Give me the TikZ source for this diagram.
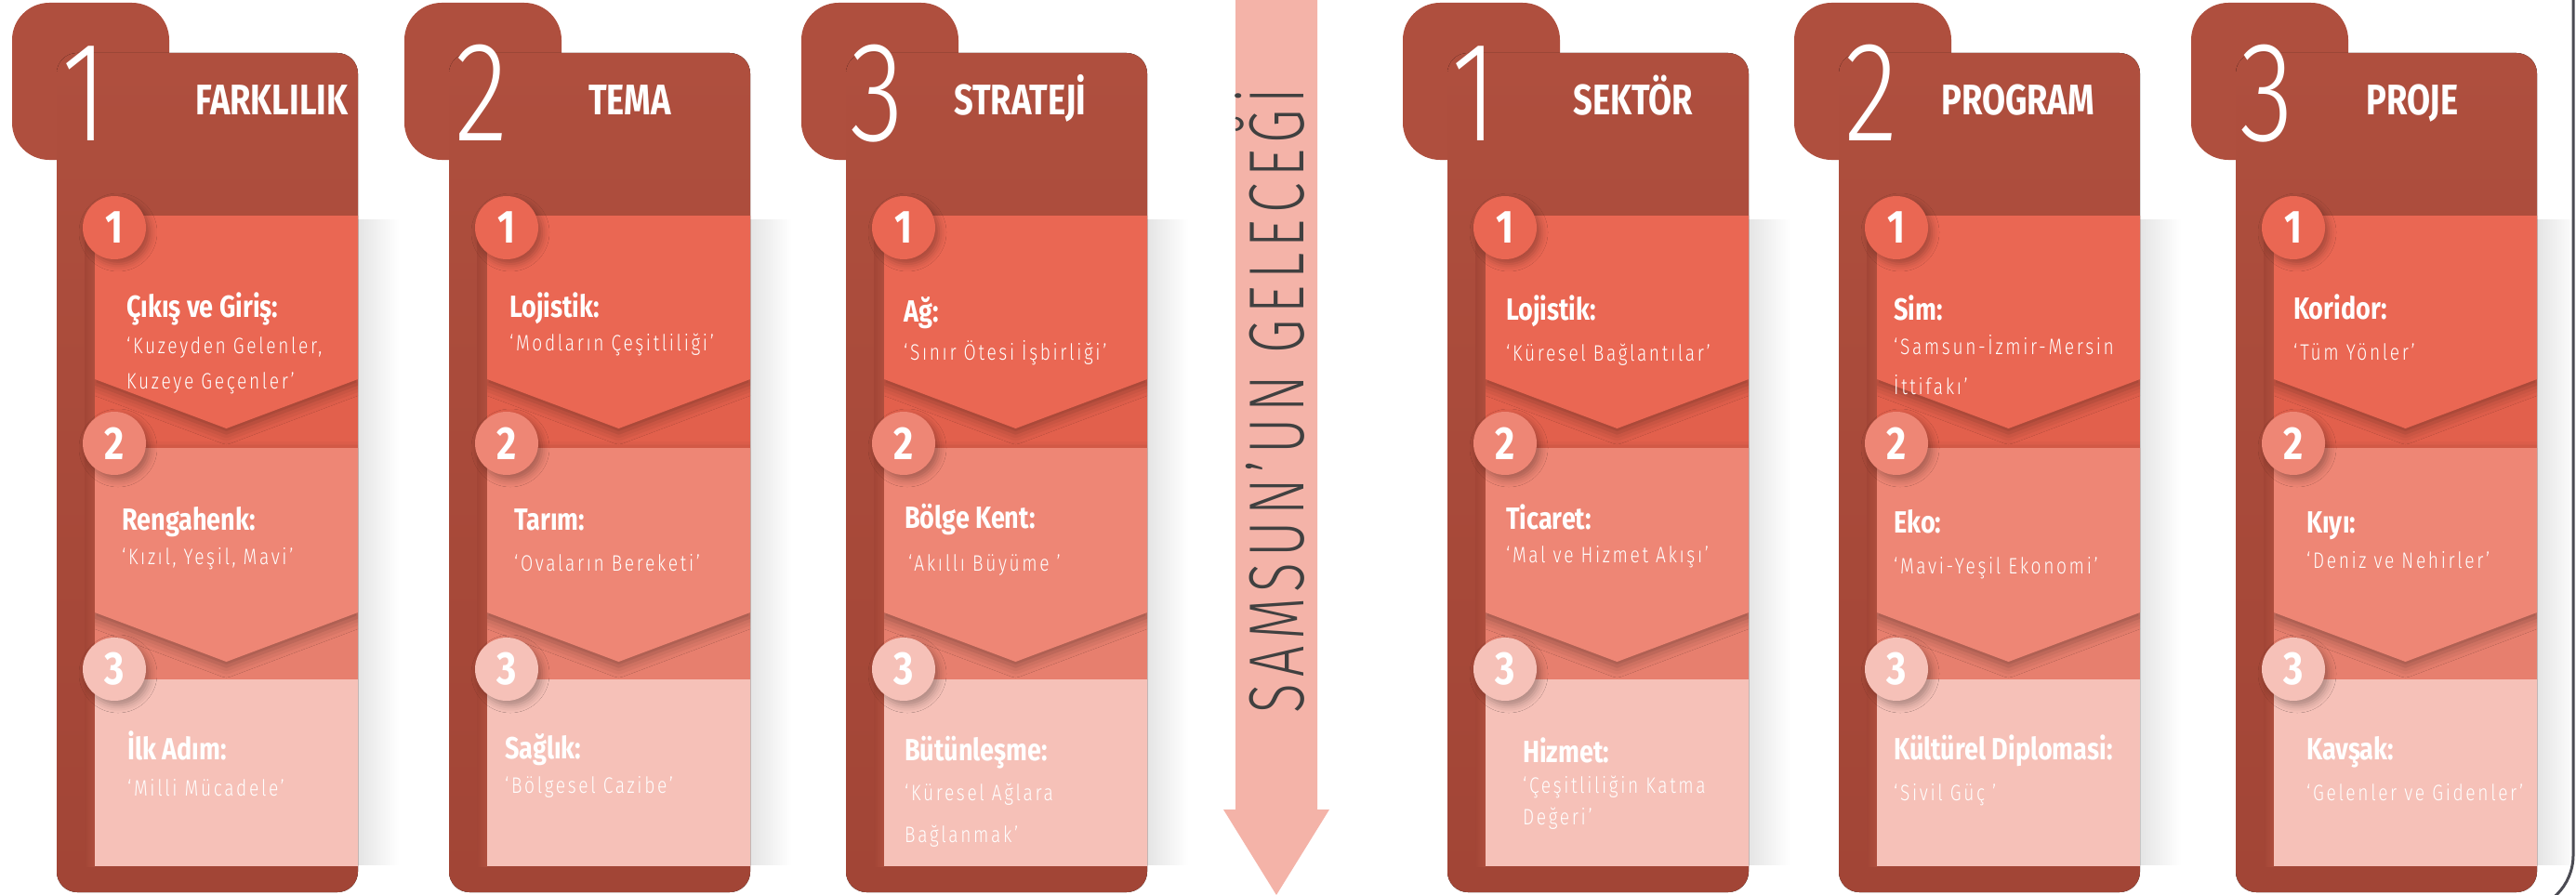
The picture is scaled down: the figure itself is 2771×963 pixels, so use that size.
\documentclass[tikz,border=0pt]{standalone}
\usepackage{fontspec}
\setmainfont{Fira Sans}
\newfontfamily\fbold{Fira Sans}[FakeStretch=0.82]
\newfontfamily\ftitle{Fira Sans}[FakeStretch=0.79]
\newfontfamily\flight{Fira Sans Light}[FakeStretch=0.8,LetterSpace=11]
\newfontfamily\fbig{Fira Sans Light}[FakeStretch=0.78]
\newfontfamily\fvert{Fira Sans Light}[FakeStretch=0.7,LetterSpace=8]
\usetikzlibrary{shadows.blur}
\definecolor{cardc}{HTML}{AF4F3E}
\definecolor{cardd}{HTML}{A24536}
\definecolor{pone}{HTML}{EA6753}
\definecolor{poned}{HTML}{E2604C}
\definecolor{ptwo}{HTML}{EE8675}
\definecolor{ptwod}{HTML}{E77F6E}
\definecolor{pthree}{HTML}{F6C1B8}
\definecolor{arrowc}{HTML}{F4B3A8}
\definecolor{vtext}{HTML}{404040}
\definecolor{framec}{HTML}{4B4B53}
\definecolor{shadowc}{HTML}{E2E2E2}
\tikzset{
 bignum/.style={font=\fbig\fontsize{153}{153}\selectfont, text=white, inner sep=0pt, anchor=base},
 titletxt/.style={font=\ftitle\bfseries\fontsize{46}{46}\selectfont, text=white, inner sep=0pt, anchor=base west},
 headtxt/.style={font=\fbold\bfseries\fontsize{33}{33}\selectfont, text=white, inner sep=0pt, anchor=base west},
 subtxt/.style={font=\flight\fontsize{24}{24}\selectfont, text=white, inner sep=0pt, anchor=base west},
 numcirc/.style={circle, minimum size=68pt, inner sep=0pt, font=\fbold\bfseries\fontsize{50}{50}\selectfont, text=white,
   blur shadow={shadow xshift=4pt, shadow yshift=-5pt, shadow blur radius=8pt, shadow opacity=30}},
 flapshape/.style={blur shadow={shadow xshift=0pt, shadow yshift=-5pt, shadow blur radius=12pt, shadow opacity=35}},
 sideshadow/.style={left color=shadowc, right color=white},
}
\newcommand{\mkcard}[2]{%
 \begin{scope}[xshift=#1pt]
  \fill[sideshadow] (320,236) rectangle (368,930);
  \fill[cardc, rounded corners=40pt] (-48,3) rectangle (121,172);
  \fill[top color=cardc, bottom color=cardd, rounded corners=22pt] (0,57) rectangle (324,960);
  \fill[left color=cardd, right color=cardc] (30,232) rectangle (41,932);
  \fill[pthree] (41,232) rectangle (324,932);
  \fill[poned] (41,232) rectangle (324,482);
  \begin{scope}
   \clip (41,232) rectangle (324,932);
   \fill[pone, flapshape] (41,232) -- (324,232) -- (324,408) -- (182.5,461) -- (41,408) -- cycle;
   \fill[ptwod] (41,482) rectangle (324,731);
   \fill[ptwo, flapshape] (41,482) -- (324,482) -- (324,659) -- (182.5,712) -- (41,659) -- cycle;
   \fill[pthree] (41,731) rectangle (324,932);
  \end{scope}
  \node[numcirc, fill=pone] (#2a) at (62,245) {1};
  \node[numcirc, fill=ptwo] (#2b) at (62,477) {2};
  \node[numcirc, fill=pthree] (#2c) at (62,720) {3};
 \end{scope}}
\begin{document}
\begin{tikzpicture}[x=1pt, y=-1pt]
\useasboundingbox (0,0) rectangle (2771,963);
\fill[white] (0,0) rectangle (2771,963);
\clip (0,0) rectangle (2771,963);

% cards
\mkcard{61}{ca}
\mkcard{483}{cb}
\mkcard{910}{cc}
\mkcard{1557}{cd}
\mkcard{1978}{ce}
\mkcard{2405}{cf}

% big numbers and titles
\node[bignum] (ba) at (91,151) {1};
\node[bignum] (bb) at (518,151) {2};
\node[bignum] (bc) at (943,151) {3};
\node[bignum] (bd) at (1586,151) {1};
\node[bignum] (be) at (2013,151) {2};
\node[bignum] (bf) at (2438,151) {3};
\node[titletxt] (ta) at (210,124) {FARKLILIK};
\node[titletxt] (tb) at (633,124) {TEMA};
\node[titletxt] (tc) at (1026,124) {STRATEJİ};
\node[titletxt] (td) at (1692,124) {SEKTÖR};
\node[titletxt] (te) at (2088,124) {PROGRAM};
\node[titletxt] (tf) at (2545,124) {PROJE};

% card 1
\node[headtxt] (a1h) at (136,341) {Çıkış ve Giriş:};
\node[subtxt] (a1s) at (136,380) {‘Kuzeyden Gelenler,};
\node[subtxt] (a1t) at (136,418) {Kuzeye Geçenler’};
\node[headtxt] (a2h) at (131,570) {Rengahenk:};
\node[subtxt] (a2s) at (131,607) {‘Kızıl, Yeşil, Mavi’};
\node[headtxt] (a3h) at (137,817) {İlk Adım:};
\node[subtxt] (a3s) at (137,856) {‘Milli Mücadele’};

% card 2
\node[headtxt] (b1h) at (548,341) {Lojistik:};
\node[subtxt] (b1s) at (548,377) {‘Modların Çeşitliliği’};
\node[headtxt] (b2h) at (553,570) {Tarım:};
\node[subtxt] (b2s) at (553,614) {‘Ovaların Bereketi’};
\node[headtxt] (b3h) at (543,816) {Sağlık:};
\node[subtxt] (b3s) at (543,853) {‘Bölgesel Cazibe’};

% card 3
\node[headtxt] (c1h) at (972,346) {Ağ:};
\node[subtxt] (c1s) at (972,387) {‘Sınır Ötesi İşbirliği’};
\node[headtxt] (c2h) at (973,568) {Bölge Kent:};
\node[subtxt] (c2s) at (977,614) {‘Akıllı Büyüme ’};
\node[headtxt] (c3h) at (973,818) {Bütünleşme:};
\node[subtxt] (c3s) at (973,861) {‘Küresel Ağlara};
\node[subtxt] (c3t) at (973,906) {Bağlanmak’};

% card 4
\node[headtxt] (d1h) at (1620,344) {Lojistik:};
\node[subtxt] (d1s) at (1620,388) {‘Küresel Bağlantılar’};
\node[headtxt] (d2h) at (1620,569) {Ticaret:};
\node[subtxt] (d2s) at (1620,605) {‘Mal ve Hizmet Akışı’};
\node[headtxt] (d3h) at (1638,820) {Hizmet:};
\node[subtxt] (d3s) at (1638,853) {‘Çeşitliliğin Katma};
\node[subtxt] (d3t) at (1638,887) {Değeri’};

% card 5
\node[headtxt] (e1h) at (2037,344) {Sim:};
\node[subtxt] (e1s) at (2037,381) {‘Samsun-İzmir-Mersin};
\node[subtxt] (e1t) at (2037,424) {İttifakı’};
\node[headtxt] (e2h) at (2037,573) {Eko:};
\node[subtxt] (e2s) at (2037,617) {‘Mavi-Yeşil Ekonomi’};
\node[headtxt] (e3h) at (2037,817) {Kültürel Diplomasi:};
\node[subtxt] (e3s) at (2037,861) {‘Sivil Güç ’};

% card 6
\node[headtxt] (f1h) at (2467,343) {Koridor:};
\node[subtxt] (f1s) at (2467,387) {‘Tüm Yönler’};
\node[headtxt] (f2h) at (2481,573) {Kıyı:};
\node[subtxt] (f2s) at (2481,611) {‘Deniz ve Nehirler’};
\node[headtxt] (f3h) at (2481,817) {Kavşak:};
\node[subtxt] (f3s) at (2481,861) {‘Gelenler ve Gidenler’};

% central arrow
\fill[arrowc] (1329,-2) -- (1417,-2) -- (1417,871) -- (1430,871) -- (1373,963) -- (1316,871) -- (1329,871) -- cycle;
\node[rotate=90, anchor=base, inner sep=0pt, font=\fvert\fontsize{84}{84}\selectfont, text=vtext] (vt) at (1402,431) {SAMSUN’UN GELECEĞİ};

% frame fragment at right
\draw[framec, line width=3pt, rounded corners=60pt] (2768,-10) -- (2768,980) -- (2600,980);
\end{tikzpicture}
\end{document}
